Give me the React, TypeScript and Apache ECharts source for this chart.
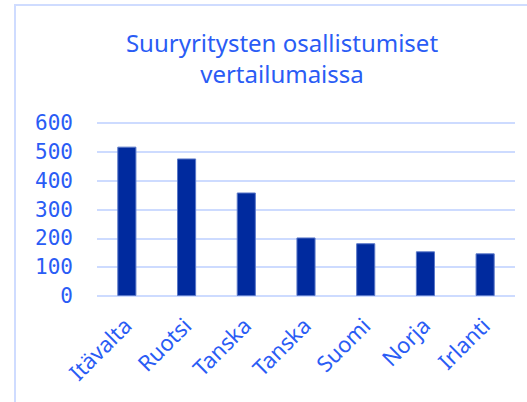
import React, { useEffect, useRef } from "react";
import * as echarts from "echarts";

const categories = ["Itävalta", "Ruotsi", "Tanska", "Tanska", "Suomi", "Norja", "Irlanti"];
const values = [518, 477, 359, 203, 183, 155, 148];
const titleText = "Suuryritysten osallistumiset\nvertailumaissa";

export default function App() {
  const ref = useRef<HTMLDivElement>(null);
  useEffect(() => {
    document.body.style.margin = "0";
    const chart = echarts.init(ref.current!, null, { renderer: "svg" });
    chart.setOption({
      animation: false,
      backgroundColor: "#ffffff",
      graphic: [
        {
          type: "rect",
          shape: { x: 15, y: 5, width: 530, height: 420 },
          style: { fill: "none", stroke: "#cfdcff", lineWidth: 2 },
          silent: true,
        },
      ],
      title: {
        text: titleText,
        left: 277,
        textAlign: "center",
        top: 22,
        textStyle: {
          color: "#2a5cf5",
          fontSize: 24,
          fontWeight: "normal",
          fontFamily: "Noto Sans",
          lineHeight: 31,
        },
      },
      grid: { left: 97, right: 12, top: 123, bottom: 106, containLabel: false },
      xAxis: {
        type: "category",
        data: categories,
        axisLine: { show: false },
        axisTick: { show: false },
        axisLabel: {
          rotate: 45,
          color: "#2a5cf5",
          fontSize: 22,
          fontFamily: "Noto Sans",
          margin: 25,
          interval: 0,
        },
      },
      yAxis: {
        type: "value",
        min: 0,
        max: 600,
        interval: 100,
        axisLine: { show: false },
        axisTick: { show: false },
        splitLine: { lineStyle: { color: "#cddbff", width: 2 } },
        axisLabel: {
          color: "#2a5cf5",
          fontSize: 21,
          fontFamily: "DejaVu Sans Mono",
          margin: 24,
        },
      },
      series: [
        {
          type: "bar",
          data: values,
          barWidth: "32%",
          itemStyle: { color: "#002a9e", borderColor: "#5a78c8", borderWidth: 1 },
        },
      ],
    });
    return () => chart.dispose();
  }, []);
  return <div ref={ref} style={{ width: 527, height: 402 }} />;
}
